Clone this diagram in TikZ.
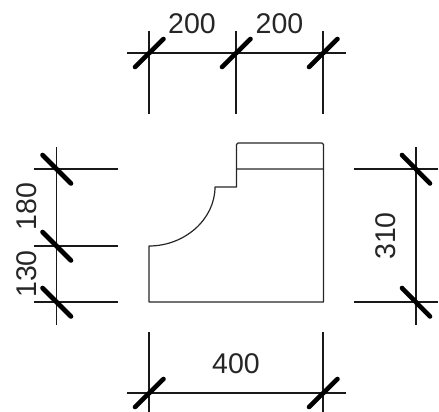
\documentclass[tikz,border=0pt]{standalone}
\usepackage{fontspec}
\setmainfont{Liberation Sans}
\tikzset{
  dimline/.style={line width=1.9pt,draw=black!90},
  tickmark/.style={line width=4.6pt,line cap=round,draw=black},
  outline/.style={line width=1.2pt,draw=black!85,line join=round},
  dimtext/.style={inner sep=0pt,text=black!85,font=\fontsize{28.5}{28.5}\selectfont}
}
\begin{document}
\begin{tikzpicture}[x=1pt,y=-1pt]
\useasboundingbox (0,0) rectangle (439,412);
% top dimension
\draw[dimline] (127,53) -- (346,53);
\foreach \x in {149,236,323}{
  \draw[dimline] (\x,31) -- (\x,114);
  \draw[tickmark] (\x-14,67) -- (\x+14.5,39);
}
\node[dimtext] (t1) at (192,24) {200};
\node[dimtext] (t2) at (279.5,24) {200};
% left dimension
\draw[dimline] (56.5,147) -- (56.5,325);
\foreach \y in {169,246,302}{
  \draw[dimline] (34,\y) -- (118,\y);
  \draw[tickmark] (42.5,\y-14) -- (71,\y+14.5);
}
\node[dimtext,rotate=90] (l1) at (27,206.5) {180};
\node[dimtext,rotate=90] (l2) at (27,274) {130};
% right dimension
\draw[dimline] (415.7,147) -- (415.7,325);
\foreach \y in {169,302}{
  \draw[dimline] (354,\y) -- (438,\y);
  \draw[tickmark] (402,\y-14) -- (430,\y+14.5);
}
\node[dimtext,rotate=90] (r1) at (386,236) {310};
% bottom dimension
\draw[dimline] (127,393) -- (346,393);
\foreach \x in {149,323}{
  \draw[dimline] (\x,332) -- (\x,412);
  \draw[tickmark] (\x-14,407) -- (\x+14.5,379);
}
\node[dimtext] (b1) at (236,363.5) {400};
% profile
\draw[outline] (149,302) -- (149,246)
  .. controls (185,246) and (215,219) .. (215,187)
  -- (236.5,187) -- (236.5,169) -- (323.5,169) -- (323.5,302) -- cycle;
\draw[outline,rounded corners=1.5pt] (236.5,169) -- (236.5,143) -- (323.5,143) -- (323.5,169);
\end{tikzpicture}
\end{document}
